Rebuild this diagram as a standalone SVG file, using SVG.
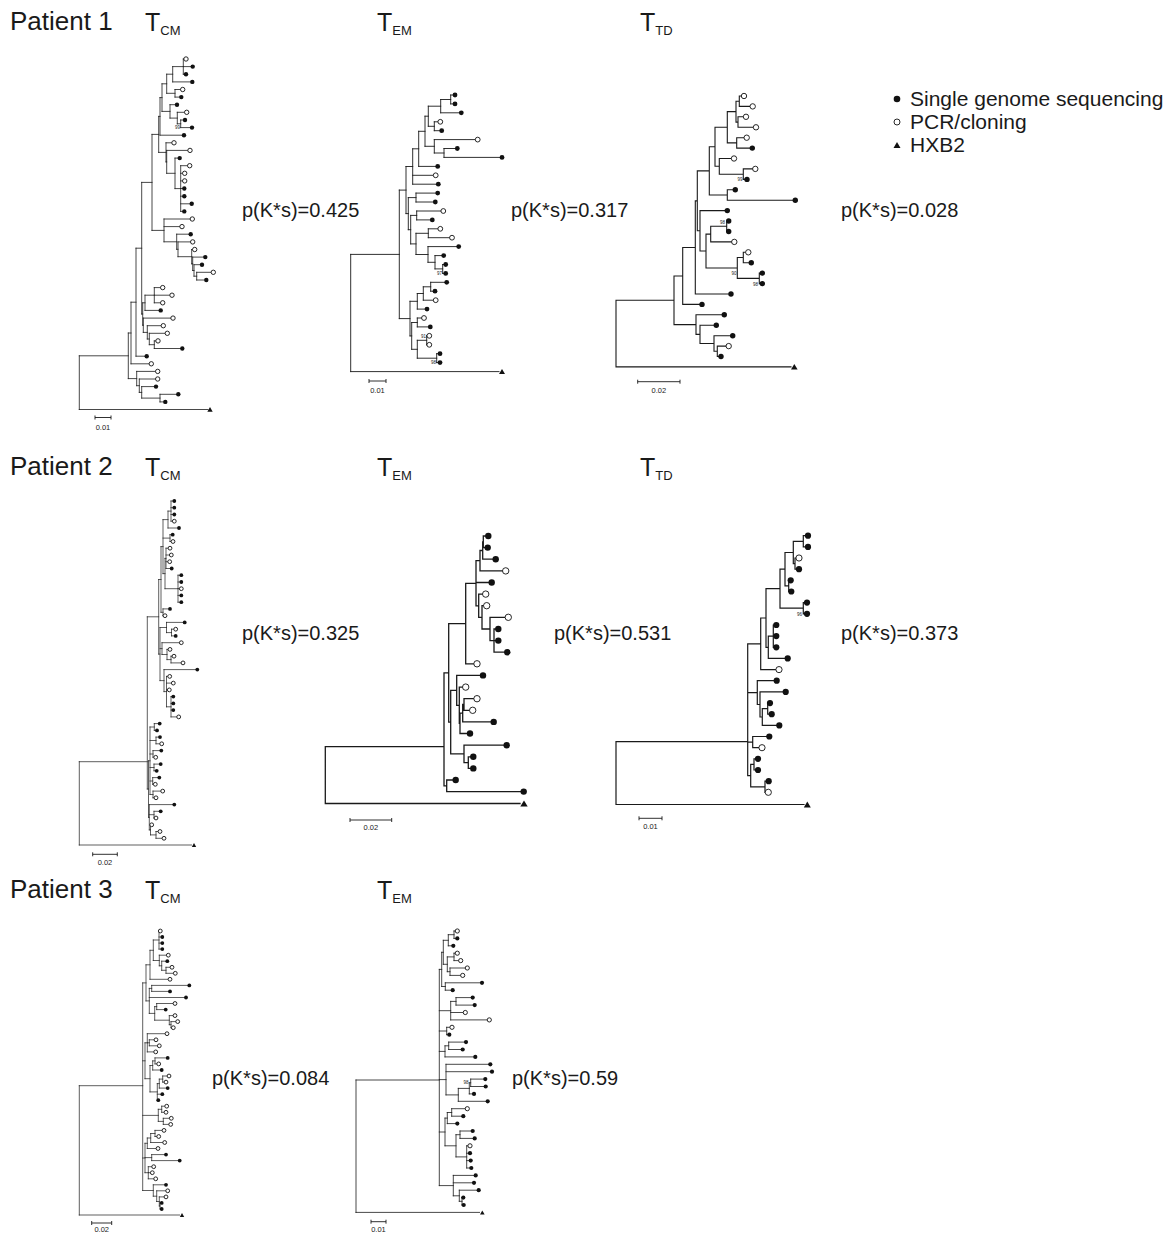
<svg xmlns="http://www.w3.org/2000/svg" width="1171" height="1234" viewBox="0 0 1171 1234">
<style>
text{font-family:"Liberation Sans",Arial,sans-serif;fill:#1a1a1a}
.pt{font-size:26px}
.tt{font-size:25px}
.sub{font-size:13px}
.pv{font-size:20px}
.lg{font-size:21px}
.sc{font-size:7.5px;text-anchor:middle}
.bs{font-size:4.5px;text-anchor:end}
.br{fill:none;stroke:#1a1a1a;stroke-linecap:square}
.f{fill:#111}
.o{fill:#fff;stroke:#111;stroke-width:0.9}
.hx{fill:#111}
.bar{fill:none;stroke:#1a1a1a;stroke-width:0.9}
</style>
<rect width="1171" height="1234" fill="#fff"/>

<g id="labels">
<text class="pt" x="10" y="30">Patient 1</text>
<text class="pt" x="10" y="475">Patient 2</text>
<text class="pt" x="10" y="898">Patient 3</text>
<text class="tt" x="145" y="31">T<tspan class="sub" dy="4">CM</tspan></text>
<text class="tt" x="377" y="31">T<tspan class="sub" dy="4">EM</tspan></text>
<text class="tt" x="640" y="31">T<tspan class="sub" dy="4">TD</tspan></text>
<text class="tt" x="145" y="476">T<tspan class="sub" dy="4">CM</tspan></text>
<text class="tt" x="377" y="476">T<tspan class="sub" dy="4">EM</tspan></text>
<text class="tt" x="640" y="476">T<tspan class="sub" dy="4">TD</tspan></text>
<text class="tt" x="145" y="899">T<tspan class="sub" dy="4">CM</tspan></text>
<text class="tt" x="377" y="899">T<tspan class="sub" dy="4">EM</tspan></text>
<text class="pv" x="242" y="217">p(K*s)=0.425</text>
<text class="pv" x="511" y="217">p(K*s)=0.317</text>
<text class="pv" x="841" y="217">p(K*s)=0.028</text>
<text class="pv" x="242" y="640">p(K*s)=0.325</text>
<text class="pv" x="554" y="640">p(K*s)=0.531</text>
<text class="pv" x="841" y="640">p(K*s)=0.373</text>
<text class="pv" x="212" y="1085">p(K*s)=0.084</text>
<text class="pv" x="512" y="1085">p(K*s)=0.59</text>
</g>

<g id="legend">
<circle class="f" cx="897" cy="99" r="3.3"/>
<circle class="o" cx="897" cy="122" r="3"/>
<polygon class="hx" points="893.5,148 897,142 900.5,148"/>
<text class="lg" x="910" y="106">Single genome sequencing</text>
<text class="lg" x="910" y="129">PCR/cloning</text>
<text class="lg" x="910" y="152">HXB2</text>
</g>

<g id="scalebars">
<path class="bar" d="M95 417.5H111M95 415.5V419.5M111 415.5V419.5"/>
<text class="sc" x="103" y="430">0.01</text>
<path class="bar" d="M369 381H386M369 379V383M386 379V383"/>
<text class="sc" x="377.5" y="393">0.01</text>
<path class="bar" d="M637.7 381.7H680M637.7 379.7V383.7M680 379.7V383.7"/>
<text class="sc" x="658.8" y="393">0.02</text>
<path class="bar" d="M92.7 854.3H117.3M92.7 852.3V856.3M117.3 852.3V856.3"/>
<text class="sc" x="105" y="865">0.02</text>
<path class="bar" d="M350 820H391.7M350 818V822M391.7 818V822"/>
<text class="sc" x="370.8" y="830">0.02</text>
<path class="bar" d="M639 818.3H662M639 816.3V820.3M662 816.3V820.3"/>
<text class="sc" x="650.5" y="829">0.01</text>
<path class="bar" d="M91.7 1223H111.7M91.7 1221V1225M111.7 1221V1225"/>
<text class="sc" x="101.7" y="1232">0.02</text>
<path class="bar" d="M371 1221.7H386M371 1219.7V1223.7M386 1219.7V1223.7"/>
<text class="sc" x="378.5" y="1232">0.01</text>
</g>

<g id="tree-p1-tcm">
<path class="br" stroke-width="0.8" d="M183.3 59V74.2M183.3 59H186M183.3 66.6H192.7M183.3 74.2H186M172.7 66.6V81.9M172.7 66.6H183.3M172.7 81.9H192.3M175 89.5V97.1M175 89.5H182.7M175 97.1H181.3M166.7 74.2V93.3M166.7 74.2H172.7M166.7 93.3H175M180.7 120V127.6M180.7 120H185M180.7 127.6H192M177.3 112.3V123.8M177.3 112.3H186.7M177.3 123.8H180.7M170 104.7V118.1M170 104.7H177M170 118.1H177.3M162 83.8V111.4M162 83.8H166.7M162 111.4H170M160 97.6V135.2M160 97.6H162M160 135.2H184M180.7 165.7V211.4M180.7 165.7H189.7M180.7 173.3H184.7M180.7 180.9H184.7M180.7 188.5H184.3M180.7 196.2H184.3M180.7 203.8H191.7M180.7 211.4H184.3M175 158.1V188.6M175 158.1H179.7M175 188.6H180.7M166.7 150.4V173.3M166.7 150.4H190M166.7 173.3H175M166 142.8V161.9M166 142.8H174M166 161.9H166.7M158.7 116.4V152.4M158.7 116.4H160M158.7 152.4H166M196.7 272.3V280M196.7 272.3H213.3M196.7 280H206.3M194 264.7V276.2M194 264.7H202M194 276.2H196.7M192.7 257.1V270.5M192.7 257.1H205.3M192.7 270.5H194M191.7 249.5V263.8M191.7 249.5H194.7M191.7 263.8H192.7M178 241.9V256.7M178 241.9H192.7M178 256.7H191.7M176.7 234.2V249.3M176.7 234.2H190.7M176.7 249.3H178M164 219V241.8M164 219H192.3M164 226.6H182M164 241.8H176.7M152 134.4V230.4M152 134.4H158.7M152 230.4H164M154.3 287.6V302.8M154.3 287.6H162.7M154.3 295.2H172M154.3 302.8H162.7M145 295.2V310.4M145 295.2H154.3M145 310.4H160.7M154.3 340.9V348.5M154.3 340.9H158M154.3 348.5H182.3M149.3 333.3V344.7M149.3 333.3H167.3M149.3 344.7H154.3M147.3 325.7V339M147.3 325.7H163.3M147.3 339H149.3M143.3 318.1V332.4M143.3 318.1H173M143.3 332.4H147.3M142.7 302.8V325.2M142.7 302.8H145M142.7 325.2H143.3M141.7 182.4V314M141.7 182.4H152M141.7 314H142.7M136 248.2V356.2M136 248.2H141.7M136 356.2H146.7M131 302.2V363.8M131 302.2H136M131 363.8H151.3M160 394.3V401.9M160 394.3H178.3M160 401.9H165.3M141.7 386.6V398.1M141.7 386.6H156M141.7 398.1H160M139.3 379V392.4M139.3 379H157.7M139.3 392.4H141.7M136.7 371.4V385.7M136.7 371.4H157.7M136.7 385.7H139.3M128.3 333V378.6M128.3 333H131M128.3 378.6H136.7M79.3 355.8V409.5M79.3 355.8H128.3M79.3 409.5H208"/>
<circle class="o" cx="186" cy="59" r="2.2"/><circle class="f" cx="192.7" cy="66.6" r="2.2"/><circle class="f" cx="186" cy="74.2" r="2.2"/><circle class="f" cx="192.3" cy="81.9" r="2.2"/><circle class="o" cx="182.7" cy="89.5" r="2.2"/><circle class="f" cx="181.3" cy="97.1" r="2.2"/><circle class="f" cx="177" cy="104.7" r="2.2"/><circle class="o" cx="186.7" cy="112.3" r="2.2"/><circle class="f" cx="185" cy="120" r="2.2"/><circle class="f" cx="192" cy="127.6" r="2.2"/><circle class="f" cx="184" cy="135.2" r="2.2"/><circle class="o" cx="174" cy="142.8" r="2.2"/><circle class="o" cx="190" cy="150.4" r="2.2"/><circle class="f" cx="179.7" cy="158.1" r="2.2"/><circle class="o" cx="189.7" cy="165.7" r="2.2"/><circle class="o" cx="184.7" cy="173.3" r="2.2"/><circle class="o" cx="184.7" cy="180.9" r="2.2"/><circle class="f" cx="184.3" cy="188.5" r="2.2"/><circle class="f" cx="184.3" cy="196.2" r="2.2"/><circle class="f" cx="191.7" cy="203.8" r="2.2"/><circle class="f" cx="184.3" cy="211.4" r="2.2"/><circle class="o" cx="192.3" cy="219" r="2.2"/><circle class="o" cx="182" cy="226.6" r="2.2"/><circle class="f" cx="190.7" cy="234.2" r="2.2"/><circle class="o" cx="192.7" cy="241.9" r="2.2"/><circle class="o" cx="194.7" cy="249.5" r="2.2"/><circle class="f" cx="205.3" cy="257.1" r="2.2"/><circle class="f" cx="202" cy="264.7" r="2.2"/><circle class="o" cx="213.3" cy="272.3" r="2.2"/><circle class="f" cx="206.3" cy="280" r="2.2"/><circle class="o" cx="162.7" cy="287.6" r="2.2"/><circle class="o" cx="172" cy="295.2" r="2.2"/><circle class="o" cx="162.7" cy="302.8" r="2.2"/><circle class="f" cx="160.7" cy="310.4" r="2.2"/><circle class="o" cx="173" cy="318.1" r="2.2"/><circle class="o" cx="163.3" cy="325.7" r="2.2"/><circle class="o" cx="167.3" cy="333.3" r="2.2"/><circle class="o" cx="158" cy="340.9" r="2.2"/><circle class="f" cx="182.3" cy="348.5" r="2.2"/><circle class="f" cx="146.7" cy="356.2" r="2.2"/><circle class="o" cx="151.3" cy="363.8" r="2.2"/><circle class="o" cx="157.7" cy="371.4" r="2.2"/><circle class="o" cx="157.7" cy="379" r="2.2"/><circle class="f" cx="156" cy="386.6" r="2.2"/><circle class="f" cx="178.3" cy="394.3" r="2.2"/><circle class="f" cx="165.3" cy="401.9" r="2.2"/>
<polygon class="hx" points="207.3,411.8 210,407 212.7,411.8"/>
<text class="bs" x="180" y="128.5">99</text>
</g>

<g id="tree-p1-tem">
<path class="br" stroke-width="0.9" d="M450.7 95V103.9M450.7 95H455M450.7 103.9H455M440.7 99.5V112.8M440.7 99.5H450.7M440.7 112.8H461.3M434.3 121.8V130.7M434.3 121.8H440.3M434.3 130.7H441.7M428.3 106.2V126.3M428.3 106.2H440.7M428.3 126.3H434.3M444 148.5V157.4M444 148.5H457.3M444 157.4H502M434.3 139.6V153M434.3 139.6H477.7M434.3 153H444M425 116.2V146.3M425 116.2H428.3M425 146.3H434.3M418.7 131.3V166.4M418.7 131.3H425M418.7 166.4H437.7M412.7 148.8V184.2M412.7 148.8H418.7M412.7 175.3H435.7M412.7 184.2H438.3M416 193.1V202M416 193.1H437.7M416 202H435.3M416.7 211V219.9M416.7 211H443.3M416.7 219.9H432.3M428.3 228.8V237.7M428.3 228.8H440.3M428.3 237.7H452M442.7 264.5V273.4M442.7 264.5H445.7M442.7 273.4H445.7M435 255.6V268.9M435 255.6H443.7M435 268.9H442.7M428 246.6V262.3M428 246.6H458.7M428 262.3H435M416 233.3V254.5M416 233.3H428.3M416 254.5H428M410.7 215.4V243.9M410.7 215.4H416.7M410.7 243.9H416M408.3 197.6V229.7M408.3 197.6H416M408.3 229.7H410.7M406 166.5V213.6M406 166.5H412.7M406 213.6H408.3M430.7 282.3V291.2M430.7 282.3H446.7M430.7 291.2H435M423.3 286.8V300.2M423.3 286.8H430.7M423.3 300.2H435.7M417.3 293.5V309.1M417.3 293.5H423.3M417.3 309.1H427M417.3 318V326.9M417.3 318H424M417.3 326.9H430.3M426.7 335.8V344.8M426.7 335.8H429.3M426.7 344.8H429.3M436.7 353.7V362.6M436.7 353.7H440M436.7 362.6H440M417.3 340.3V358.2M417.3 340.3H426.7M417.3 358.2H436.7M411.7 322.5V349.3M411.7 322.5H417.3M411.7 349.3H417.3M410 301.3V335.9M410 301.3H417.3M410 335.9H411.7M399.3 190.1V318.6M399.3 190.1H406M399.3 318.6H410M350.7 254.4V371.6M350.7 254.4H399.3M350.7 371.6H499"/>
<circle class="f" cx="455" cy="95" r="2.4"/><circle class="f" cx="455" cy="103.9" r="2.4"/><circle class="f" cx="461.3" cy="112.8" r="2.4"/><circle class="o" cx="440.3" cy="121.8" r="2.4"/><circle class="f" cx="441.7" cy="130.7" r="2.4"/><circle class="o" cx="477.7" cy="139.6" r="2.4"/><circle class="f" cx="457.3" cy="148.5" r="2.4"/><circle class="f" cx="502" cy="157.4" r="2.4"/><circle class="f" cx="437.7" cy="166.4" r="2.4"/><circle class="o" cx="435.7" cy="175.3" r="2.4"/><circle class="f" cx="438.3" cy="184.2" r="2.4"/><circle class="f" cx="437.7" cy="193.1" r="2.4"/><circle class="f" cx="435.3" cy="202" r="2.4"/><circle class="o" cx="443.3" cy="211" r="2.4"/><circle class="f" cx="432.3" cy="219.9" r="2.4"/><circle class="o" cx="440.3" cy="228.8" r="2.4"/><circle class="o" cx="452" cy="237.7" r="2.4"/><circle class="f" cx="458.7" cy="246.6" r="2.4"/><circle class="f" cx="443.7" cy="255.6" r="2.4"/><circle class="f" cx="445.7" cy="264.5" r="2.4"/><circle class="f" cx="445.7" cy="273.4" r="2.4"/><circle class="f" cx="446.7" cy="282.3" r="2.4"/><circle class="f" cx="435" cy="291.2" r="2.4"/><circle class="o" cx="435.7" cy="300.2" r="2.4"/><circle class="f" cx="427" cy="309.1" r="2.4"/><circle class="o" cx="424" cy="318" r="2.4"/><circle class="f" cx="430.3" cy="326.9" r="2.4"/><circle class="o" cx="429.3" cy="335.8" r="2.4"/><circle class="o" cx="429.3" cy="344.8" r="2.4"/><circle class="f" cx="440" cy="353.7" r="2.4"/><circle class="f" cx="440" cy="362.6" r="2.4"/>
<polygon class="hx" points="499,373.9 502,368.9 505,373.9"/>
<text class="bs" x="442" y="274.5">97</text>
<text class="bs" x="426" y="337.5">91</text>
<text class="bs" x="436" y="363.5">98</text>
</g>

<g id="tree-p1-ttd">
<path class="br" stroke-width="1.1" d="M739.3 96V106.4M739.3 96H744M739.3 106.4H752.7M738 116.8V127.3M738 116.8H746M738 127.3H756M736 101.2V122.1M736 101.2H739.3M736 122.1H738M736.7 137.7V148.1M736.7 137.7H746.7M736.7 148.1H752.3M727.3 111.6V142.9M727.3 111.6H736M727.3 142.9H736.7M743.3 168.9V179.4M743.3 168.9H755.3M743.3 179.4H747M719.3 158.5V174.2M719.3 158.5H734M719.3 174.2H743.3M715 127.3V166.3M715 127.3H727.3M715 166.3H719.3M727.3 189.8V200.2M727.3 189.8H735.3M727.3 200.2H795.3M709.3 146.8V195M709.3 146.8H715M709.3 195H727.3M726.7 221V231.5M726.7 221H728.7M726.7 231.5H728.7M710.7 226.3V241.9M710.7 226.3H726.7M710.7 241.9H734.3M743.3 252.3V262.7M743.3 252.3H748.3M743.3 262.7H751.3M759.3 273.1V283.6M759.3 273.1H762.3M759.3 283.6H762.3M737.3 257.5V278.4M737.3 257.5H743.3M737.3 278.4H759.3M706 234.1V268M706 234.1H710.7M706 268H737.3M700 210.6V251M700 210.6H727.3M700 251H706M697.3 170.9V230.8M697.3 170.9H709.3M697.3 230.8H700M695.3 200.9V294M695.3 200.9H697.3M695.3 294H731M682.7 247.5V304.4M682.7 247.5H695.3M682.7 304.4H702M717.3 346.1V356.5M717.3 346.1H728.7M717.3 356.5H721M714 335.7V351.3M714 335.7H732.7M714 351.3H717.3M700 325.2V343.5M700 325.2H716.3M700 343.5H714M696 314.8V334.4M696 314.8H724.3M696 334.4H700M674 276V324.6M674 276H682.7M674 324.6H696M616 300.3V366.9M616 300.3H674M616 366.9H791"/>
<circle class="o" cx="744" cy="96" r="2.7"/><circle class="o" cx="752.7" cy="106.4" r="2.7"/><circle class="o" cx="746" cy="116.8" r="2.7"/><circle class="o" cx="756" cy="127.3" r="2.7"/><circle class="o" cx="746.7" cy="137.7" r="2.7"/><circle class="f" cx="752.3" cy="148.1" r="2.7"/><circle class="o" cx="734" cy="158.5" r="2.7"/><circle class="o" cx="755.3" cy="168.9" r="2.7"/><circle class="f" cx="747" cy="179.4" r="2.7"/><circle class="f" cx="735.3" cy="189.8" r="2.7"/><circle class="f" cx="795.3" cy="200.2" r="2.7"/><circle class="f" cx="727.3" cy="210.6" r="2.7"/><circle class="f" cx="728.7" cy="221" r="2.7"/><circle class="f" cx="728.7" cy="231.5" r="2.7"/><circle class="o" cx="734.3" cy="241.9" r="2.7"/><circle class="o" cx="748.3" cy="252.3" r="2.7"/><circle class="f" cx="751.3" cy="262.7" r="2.7"/><circle class="f" cx="762.3" cy="273.1" r="2.7"/><circle class="f" cx="762.3" cy="283.6" r="2.7"/><circle class="f" cx="731" cy="294" r="2.7"/><circle class="f" cx="702" cy="304.4" r="2.7"/><circle class="f" cx="724.3" cy="314.8" r="2.7"/><circle class="f" cx="716.3" cy="325.2" r="2.7"/><circle class="f" cx="732.7" cy="335.7" r="2.7"/><circle class="o" cx="728.7" cy="346.1" r="2.7"/><circle class="f" cx="721" cy="356.5" r="2.7"/>
<polygon class="hx" points="791,369.6 794.3,364 797.6,369.6"/>
<text class="bs" x="742.5" y="180.5">99</text>
<text class="bs" x="725" y="224">98</text>
<text class="bs" x="736.5" y="275">90</text>
<text class="bs" x="758" y="285.5">98</text>
</g>

<g id="tree-p2-tcm">
<path class="br" stroke-width="0.7" d="M171 501V521.2M171 501H174.3M171 507.7H174.3M171 514.5H174.3M171 521.2H174.3M168 511.1V528M168 511.1H171M168 528H179M170 534.7V541.5M170 534.7H172.7M170 541.5H173M166 548.2V568.5M166 548.2H170M166 555H171.3M166 561.7H169.7M166 568.5H171.7M178 575.2V602.2M178 575.2H181.3M178 582H181.3M178 588.7H181.3M178 595.4H181.3M178 602.2H181.3M165 558.4V588.7M165 558.4H166M165 588.7H178M163 519.6V573.6M163 519.6H168M163 538.1H170M163 573.6H165M163 608.9V615.7M163 608.9H170M163 615.7H165M161 546.6V612.3M161 546.6H163M161 612.3H163M171.5 629.2V635.9M171.5 629.2H175.7M171.5 635.9H175.7M166.5 622.4V632.6M166.5 622.4H184.7M166.5 632.6H171.5M171 656.2V662.9M171 656.2H174M171 662.9H183M167 649.4V659.6M167 649.4H170M167 659.6H171M162 642.7V654.5M162 642.7H181.3M162 654.5H167M171 696.6V716.9M171 696.6H173.3M171 703.4H173.3M171 710.1H173.3M171 716.9H178.7M166.5 676.4V706.8M166.5 676.4H169.7M166.5 683.1H173.3M166.5 689.9H169.3M166.5 706.8H171M164 669.6V691.6M164 669.6H197.3M164 691.6H166.5M160 627.5V680.6M160 627.5H166.5M160 648.6H162M160 680.6H164M158.7 579.5V654.1M158.7 579.5H161M158.7 654.1H160M154.3 723.6V730.4M154.3 723.6H159.7M154.3 730.4H157M156 737.1V743.8M156 737.1H160M156 743.8H161.7M153 750.6V757.3M153 750.6H161.3M153 757.3H155.7M154 764.1V770.8M154 764.1H160.7M154 770.8H156.7M152.7 777.6V784.3M152.7 777.6H159.3M152.7 784.3H155.3M153 791.1V797.8M153 791.1H162.7M153 797.8H156M150 727V794.5M150 727H154.3M150 740.5H156M150 754H153M150 767.5H154M150 781H152.7M150 794.5H153M154 811.3V818M154 811.3H160.7M154 818H156M156 831.5V838.3M156 831.5H160M156 838.3H164M150.5 824.8V834.9M150.5 824.8H151.7M150.5 834.9H156M149.3 804.6V829.9M149.3 804.6H174.3M149.3 814.7H154M149.3 829.9H150.5M148.5 760.8V817.3M148.5 760.8H150M148.5 817.3H149.3M147.3 616.8V789M147.3 616.8H158.7M147.3 789H148.5M79.3 761.7V845M79.3 761.7H147.3M79.3 845H191.5"/>
<circle class="f" cx="174.3" cy="501" r="1.9"/><circle class="f" cx="174.3" cy="507.7" r="1.9"/><circle class="f" cx="174.3" cy="514.5" r="1.9"/><circle class="o" cx="174.3" cy="521.2" r="1.9"/><circle class="f" cx="179" cy="528" r="1.9"/><circle class="f" cx="172.7" cy="534.7" r="1.9"/><circle class="o" cx="173" cy="541.5" r="1.9"/><circle class="o" cx="170" cy="548.2" r="1.9"/><circle class="o" cx="171.3" cy="555" r="1.9"/><circle class="o" cx="169.7" cy="561.7" r="1.9"/><circle class="f" cx="171.7" cy="568.5" r="1.9"/><circle class="f" cx="181.3" cy="575.2" r="1.9"/><circle class="f" cx="181.3" cy="582" r="1.9"/><circle class="o" cx="181.3" cy="588.7" r="1.9"/><circle class="f" cx="181.3" cy="595.4" r="1.9"/><circle class="f" cx="181.3" cy="602.2" r="1.9"/><circle class="f" cx="170" cy="608.9" r="1.9"/><circle class="o" cx="165" cy="615.7" r="1.9"/><circle class="f" cx="184.7" cy="622.4" r="1.9"/><circle class="o" cx="175.7" cy="629.2" r="1.9"/><circle class="f" cx="175.7" cy="635.9" r="1.9"/><circle class="o" cx="181.3" cy="642.7" r="1.9"/><circle class="o" cx="170" cy="649.4" r="1.9"/><circle class="o" cx="174" cy="656.2" r="1.9"/><circle class="o" cx="183" cy="662.9" r="1.9"/><circle class="f" cx="197.3" cy="669.6" r="1.9"/><circle class="o" cx="169.7" cy="676.4" r="1.9"/><circle class="o" cx="173.3" cy="683.1" r="1.9"/><circle class="o" cx="169.3" cy="689.9" r="1.9"/><circle class="f" cx="173.3" cy="696.6" r="1.9"/><circle class="f" cx="173.3" cy="703.4" r="1.9"/><circle class="f" cx="173.3" cy="710.1" r="1.9"/><circle class="o" cx="178.7" cy="716.9" r="1.9"/><circle class="f" cx="159.7" cy="723.6" r="1.9"/><circle class="f" cx="157" cy="730.4" r="1.9"/><circle class="f" cx="160" cy="737.1" r="1.9"/><circle class="o" cx="161.7" cy="743.8" r="1.9"/><circle class="f" cx="161.3" cy="750.6" r="1.9"/><circle class="o" cx="155.7" cy="757.3" r="1.9"/><circle class="f" cx="160.7" cy="764.1" r="1.9"/><circle class="f" cx="156.7" cy="770.8" r="1.9"/><circle class="f" cx="159.3" cy="777.6" r="1.9"/><circle class="o" cx="155.3" cy="784.3" r="1.9"/><circle class="o" cx="162.7" cy="791.1" r="1.9"/><circle class="o" cx="156" cy="797.8" r="1.9"/><circle class="f" cx="174.3" cy="804.6" r="1.9"/><circle class="f" cx="160.7" cy="811.3" r="1.9"/><circle class="o" cx="156" cy="818" r="1.9"/><circle class="o" cx="151.7" cy="824.8" r="1.9"/><circle class="o" cx="160" cy="831.5" r="1.9"/><circle class="o" cx="164" cy="838.3" r="1.9"/>
<polygon class="hx" points="191.8,847 194,843 196.2,847"/>
</g>

<g id="tree-p2-tem">
<path class="br" stroke-width="1.3" d="M483.3 536V547.6M483.3 536H488.3M483.3 547.6H487.7M482.7 541.8V559.2M482.7 541.8H483.3M482.7 559.2H495.7M480 550.5V570.9M480 550.5H482.7M480 570.9H505.7M494 629V652.2M494 629H498.3M494 640.6H498.3M494 652.2H507.3M490 617.3V640.6M490 617.3H508.3M490 640.6H494M482 605.7V629M482 605.7H486.7M482 629H490M478.7 594.1V617.4M478.7 594.1H485.7M478.7 617.4H482M476 560.7V605.8M476 560.7H480M476 582.5H491.7M476 605.8H478.7M465.7 583.3V663.8M465.7 583.3H476M465.7 663.8H477M464 698.7V710.3M464 698.7H477M464 710.3H472.7M462.7 704.5V721.9M462.7 704.5H464M462.7 721.9H493.7M460 713.2V733.5M460 713.2H462.7M460 733.5H470M459.3 687.1V723.4M459.3 687.1H465.7M459.3 723.4H460M456.7 675.4V705.3M456.7 675.4H483M456.7 705.3H459.3M468.3 756.8V768.4M468.3 756.8H473.3M468.3 768.4H473.3M464 745.2V762.6M464 745.2H506.7M464 762.6H468.3M450.7 690.4V753.9M450.7 690.4H456.7M450.7 753.9H464M448.7 623.6V722.2M448.7 623.6H465.7M448.7 722.2H450.7M446.7 780V791.6M446.7 780H455.7M446.7 791.6H523.7M444 672.9V785.8M444 672.9H448.7M444 785.8H446.7M325.3 746.7V803.5M325.3 746.7H444M325.3 803.5H520"/>
<circle class="f" cx="488.3" cy="536" r="3.2"/><circle class="f" cx="487.7" cy="547.6" r="3.2"/><circle class="f" cx="495.7" cy="559.2" r="3.2"/><circle class="o" cx="505.7" cy="570.9" r="3.2"/><circle class="f" cx="491.7" cy="582.5" r="3.2"/><circle class="o" cx="485.7" cy="594.1" r="3.2"/><circle class="o" cx="486.7" cy="605.7" r="3.2"/><circle class="o" cx="508.3" cy="617.3" r="3.2"/><circle class="f" cx="498.3" cy="629" r="3.2"/><circle class="f" cx="498.3" cy="640.6" r="3.2"/><circle class="f" cx="507.3" cy="652.2" r="3.2"/><circle class="o" cx="477" cy="663.8" r="3.2"/><circle class="f" cx="483" cy="675.4" r="3.2"/><circle class="o" cx="465.7" cy="687.1" r="3.2"/><circle class="o" cx="477" cy="698.7" r="3.2"/><circle class="o" cx="472.7" cy="710.3" r="3.2"/><circle class="f" cx="493.7" cy="721.9" r="3.2"/><circle class="f" cx="470" cy="733.5" r="3.2"/><circle class="f" cx="506.7" cy="745.2" r="3.2"/><circle class="f" cx="473.3" cy="756.8" r="3.2"/><circle class="f" cx="473.3" cy="768.4" r="3.2"/><circle class="f" cx="455.7" cy="780" r="3.2"/><circle class="f" cx="523.7" cy="791.6" r="3.2"/>
<polygon class="hx" points="520.3,806.6 524,800.4 527.7,806.6"/>
</g>

<g id="tree-p2-ttd">
<path class="br" stroke-width="1.2" d="M803.3 535.7V546.9M803.3 535.7H808M803.3 546.9H808M795 558V569.2M795 558H799M795 569.2H799M793.3 541.3V563.6M793.3 541.3H803.3M793.3 563.6H795M788.7 580.3V591.5M788.7 580.3H790.7M788.7 591.5H791.3M785 552.5V585.9M785 552.5H793.3M785 585.9H788.7M803.3 602.6V613.8M803.3 602.6H807M803.3 613.8H807M780 569.2V608.2M780 569.2H785M780 608.2H803.3M773.3 625V647.3M773.3 625H776.3M773.3 636.1H776.3M773.3 647.3H776.3M768.3 636.1V658.4M768.3 636.1H773.3M768.3 658.4H787.7M766 588.7V647.3M766 588.7H780M766 647.3H768.3M760.7 618V669.6M760.7 618H766M760.7 669.6H779M767.7 703.1V714.2M767.7 703.1H770M767.7 714.2H771.7M762.3 708.7V725.4M762.3 708.7H767.7M762.3 725.4H779.3M760 691.9V717M760 691.9H785.7M760 717H762.3M757.3 680.7V704.5M757.3 680.7H776.7M757.3 704.5H760M752.7 736.5V747.7M752.7 736.5H769.3M752.7 747.7H762M754 758.8V770M754 758.8H758M754 770H758M765 781.2V792.3M765 781.2H768.7M765 792.3H768.3M750.7 764.4V786.8M750.7 764.4H754M750.7 786.8H765M747.7 643.8V775.6M747.7 643.8H760.7M747.7 692.6H757.3M747.7 742.1H752.7M747.7 775.6H750.7M616 741.7V804.5M616 741.7H747.7M616 804.5H804"/>
<circle class="f" cx="808" cy="535.7" r="3.1"/><circle class="f" cx="808" cy="546.9" r="3.1"/><circle class="o" cx="799" cy="558" r="3.1"/><circle class="f" cx="799" cy="569.2" r="3.1"/><circle class="f" cx="790.7" cy="580.3" r="3.1"/><circle class="f" cx="791.3" cy="591.5" r="3.1"/><circle class="f" cx="807" cy="602.6" r="3.1"/><circle class="f" cx="807" cy="613.8" r="3.1"/><circle class="f" cx="776.3" cy="625" r="3.1"/><circle class="f" cx="776.3" cy="636.1" r="3.1"/><circle class="f" cx="776.3" cy="647.3" r="3.1"/><circle class="f" cx="787.7" cy="658.4" r="3.1"/><circle class="o" cx="779" cy="669.6" r="3.1"/><circle class="f" cx="776.7" cy="680.7" r="3.1"/><circle class="f" cx="785.7" cy="691.9" r="3.1"/><circle class="f" cx="770" cy="703.1" r="3.1"/><circle class="f" cx="771.7" cy="714.2" r="3.1"/><circle class="f" cx="779.3" cy="725.4" r="3.1"/><circle class="f" cx="769.3" cy="736.5" r="3.1"/><circle class="o" cx="762" cy="747.7" r="3.1"/><circle class="f" cx="758" cy="758.8" r="3.1"/><circle class="f" cx="758" cy="770" r="3.1"/><circle class="f" cx="768.7" cy="781.2" r="3.1"/><circle class="o" cx="768.3" cy="792.3" r="3.1"/>
<polygon class="hx" points="803.8,807.4 807.3,801.4 810.8,807.4"/>
<text class="bs" x="802" y="615.5">96</text>
</g>

<g id="tree-p3-tcm">
<path class="br" stroke-width="0.7" d="M159 931V949.1M159 931H160.3M159 937H162.3M159 943.1H162.3M159 949.1H162.3M166 967.3V973.3M166 967.3H172M166 973.3H175.3M161.7 961.2V970.3M161.7 961.2H167.3M161.7 970.3H166M159.3 955.2V965.8M159.3 955.2H168.3M159.3 965.8H161.7M153.3 940V960.5M153.3 940H159M153.3 960.5H159.3M150 950.3V979.3M150 950.3H153.3M150 979.3H170M171 1021.6V1027.7M171 1021.6H177.7M171 1027.7H173.3M169.3 1015.6V1024.7M169.3 1015.6H175M169.3 1024.7H171M156.7 1003.5V1009.6M156.7 1003.5H175M156.7 1009.6H165.7M154.7 1006.6V1020.2M154.7 1006.6H156.7M154.7 1020.2H169.3M151.7 985.4V991.4M151.7 985.4H189.3M151.7 991.4H170M149.3 988.4V1013.4M149.3 988.4H151.7M149.3 997.5H186M149.3 1013.4H154.7M146 964.8V1000.9M146 964.8H150M146 1000.9H149.3M149.3 1039.8V1045.8M149.3 1039.8H156M149.3 1045.8H159.3M147.3 1033.7V1051.9M147.3 1033.7H167M147.3 1042.8H149.3M147.3 1051.9H155.7M155 1057.9V1063.9M155 1057.9H167.7M155 1063.9H158.7M152.7 1060.9V1070M152.7 1060.9H155M152.7 1070H161.7M162.7 1076V1082.1M162.7 1076H169M162.7 1082.1H166M159.3 1079.1V1088.1M159.3 1079.1H162.7M159.3 1088.1H167.7M157.3 1083.6V1100.2M157.3 1083.6H159.3M157.3 1094.2H162.3M157.3 1100.2H158.3M150 1065.5V1091.9M150 1065.5H152.7M150 1091.9H157.3M145 1042.8V1078.7M145 1042.8H147.3M145 1078.7H150M161.7 1106.2V1112.3M161.7 1106.2H166.7M161.7 1112.3H166M163.3 1118.3V1124.4M163.3 1118.3H171.3M163.3 1124.4H170.7M158.3 1109.3V1121.4M158.3 1109.3H161.7M158.3 1121.4H163.3M155 1130.4V1136.5M155 1130.4H164M155 1136.5H158.7M150.7 1133.5V1142.5M150.7 1133.5H155M150.7 1142.5H164.7M147.3 1138V1148.5M147.3 1138H150.7M147.3 1148.5H158M151.7 1154.6V1160.6M151.7 1154.6H166M151.7 1160.6H179.7M148.3 1166.7V1178.8M148.3 1166.7H153.7M148.3 1172.7H152.3M148.3 1178.8H155.7M145 1143.3V1172.7M145 1143.3H147.3M145 1157.6H151.7M145 1172.7H148.3M160 1202.9V1209M160 1202.9H161.7M160 1209H161.7M159.3 1196.9V1206M159.3 1196.9H166M159.3 1206H160M156.7 1190.8V1201.5M156.7 1190.8H167.7M156.7 1201.5H159.3M153.3 1184.8V1196.2M153.3 1184.8H166M153.3 1196.2H156.7M142.7 982.9V1190.5M142.7 982.9H146M142.7 1060.8H145M142.7 1115.4H158.3M142.7 1158H145M142.7 1190.5H153.3M79.3 1085.7V1215M79.3 1085.7H142.7M79.3 1215H179.5"/>
<circle class="o" cx="160.3" cy="931" r="1.9"/><circle class="f" cx="162.3" cy="937" r="1.9"/><circle class="f" cx="162.3" cy="943.1" r="1.9"/><circle class="f" cx="162.3" cy="949.1" r="1.9"/><circle class="o" cx="168.3" cy="955.2" r="1.9"/><circle class="f" cx="167.3" cy="961.2" r="1.9"/><circle class="o" cx="172" cy="967.3" r="1.9"/><circle class="o" cx="175.3" cy="973.3" r="1.9"/><circle class="o" cx="170" cy="979.3" r="1.9"/><circle class="f" cx="189.3" cy="985.4" r="1.9"/><circle class="f" cx="170" cy="991.4" r="1.9"/><circle class="f" cx="186" cy="997.5" r="1.9"/><circle class="o" cx="175" cy="1003.5" r="1.9"/><circle class="f" cx="165.7" cy="1009.6" r="1.9"/><circle class="o" cx="175" cy="1015.6" r="1.9"/><circle class="o" cx="177.7" cy="1021.6" r="1.9"/><circle class="o" cx="173.3" cy="1027.7" r="1.9"/><circle class="o" cx="167" cy="1033.7" r="1.9"/><circle class="o" cx="156" cy="1039.8" r="1.9"/><circle class="o" cx="159.3" cy="1045.8" r="1.9"/><circle class="o" cx="155.7" cy="1051.9" r="1.9"/><circle class="f" cx="167.7" cy="1057.9" r="1.9"/><circle class="o" cx="158.7" cy="1063.9" r="1.9"/><circle class="f" cx="161.7" cy="1070" r="1.9"/><circle class="o" cx="169" cy="1076" r="1.9"/><circle class="o" cx="166" cy="1082.1" r="1.9"/><circle class="f" cx="167.7" cy="1088.1" r="1.9"/><circle class="f" cx="162.3" cy="1094.2" r="1.9"/><circle class="f" cx="158.3" cy="1100.2" r="1.9"/><circle class="o" cx="166.7" cy="1106.2" r="1.9"/><circle class="o" cx="166" cy="1112.3" r="1.9"/><circle class="o" cx="171.3" cy="1118.3" r="1.9"/><circle class="o" cx="170.7" cy="1124.4" r="1.9"/><circle class="o" cx="164" cy="1130.4" r="1.9"/><circle class="o" cx="158.7" cy="1136.5" r="1.9"/><circle class="o" cx="164.7" cy="1142.5" r="1.9"/><circle class="o" cx="158" cy="1148.5" r="1.9"/><circle class="f" cx="166" cy="1154.6" r="1.9"/><circle class="f" cx="179.7" cy="1160.6" r="1.9"/><circle class="o" cx="153.7" cy="1166.7" r="1.9"/><circle class="o" cx="152.3" cy="1172.7" r="1.9"/><circle class="o" cx="155.7" cy="1178.8" r="1.9"/><circle class="f" cx="166" cy="1184.8" r="1.9"/><circle class="o" cx="167.7" cy="1190.8" r="1.9"/><circle class="o" cx="166" cy="1196.9" r="1.9"/><circle class="f" cx="161.7" cy="1202.9" r="1.9"/><circle class="f" cx="161.7" cy="1209" r="1.9"/>
<polygon class="hx" points="179.8,1217 182,1213 184.2,1217"/>
</g>

<g id="tree-p3-tem">
<path class="br" stroke-width="0.8" d="M454 931V938.4M454 931H457.3M454 938.4H457.3M448.3 934.7V945.8M448.3 934.7H454M448.3 945.8H453.3M454 953.2V960.6M454 953.2H457.3M454 960.6H460.7M450 968V975.4M450 968H467.3M450 975.4H462.7M447.3 956.9V971.7M447.3 956.9H454M447.3 971.7H450M443.3 940.3V964.3M443.3 940.3H448.3M443.3 964.3H447.3M445.3 982.8V990.2M445.3 982.8H482M445.3 990.2H452.7M441.7 952.3V986.5M441.7 952.3H443.3M441.7 986.5H445.3M456 997.6V1005.1M456 997.6H472.7M456 1005.1H474.7M450.7 1001.4V1019.9M450.7 1001.4H456M450.7 1012.5H465.3M450.7 1019.9H489.3M446.7 1027.3V1034.7M446.7 1027.3H452M446.7 1034.7H449.3M448.7 1042.1V1049.5M448.7 1042.1H466M448.7 1049.5H462.7M445 1045.8V1056.9M445 1045.8H448.7M445 1056.9H475.3M470.7 1079.1V1086.5M470.7 1079.1H485.3M470.7 1086.5H485.7M469.3 1082.8V1093.9M469.3 1082.8H470.7M469.3 1093.9H474M458.3 1088.4V1101.3M458.3 1088.4H469.3M458.3 1101.3H487.7M446 1064.3V1094.9M446 1064.3H490.3M446 1071.7H492M446 1094.9H458.3M451.7 1108.7V1116.2M451.7 1108.7H467.3M451.7 1116.2H463.3M447.3 1112.5V1123.6M447.3 1112.5H451.7M447.3 1123.6H457.3M460 1131V1138.4M460 1131H472.7M460 1138.4H474.7M466.7 1145.8V1168M466.7 1145.8H470M466.7 1153.2H470M466.7 1160.6H470.7M466.7 1168H471.3M456 1134.7V1156.9M456 1134.7H460M456 1156.9H466.7M445 1118.1V1145.8M445 1118.1H447.3M445 1145.8H456M462 1197.6V1205M462 1197.6H463.3M462 1205H463.7M459.3 1190.2V1201.3M459.3 1190.2H478.7M459.3 1201.3H462M453.3 1175.4V1195.8M453.3 1175.4H475.7M453.3 1182.8H474M453.3 1195.8H459.3M439.3 969.4V1185.6M439.3 969.4H441.7M439.3 1010.7H450.7M439.3 1031H446.7M439.3 1051.4H445M439.3 1079.6H446M439.3 1132H445M439.3 1185.6H453.3M356 1080V1212.4M356 1080H439.3M356 1212.4H479.5"/>
<circle class="o" cx="457.3" cy="931" r="2.1"/><circle class="f" cx="457.3" cy="938.4" r="2.1"/><circle class="f" cx="453.3" cy="945.8" r="2.1"/><circle class="o" cx="457.3" cy="953.2" r="2.1"/><circle class="o" cx="460.7" cy="960.6" r="2.1"/><circle class="o" cx="467.3" cy="968" r="2.1"/><circle class="o" cx="462.7" cy="975.4" r="2.1"/><circle class="f" cx="482" cy="982.8" r="2.1"/><circle class="f" cx="452.7" cy="990.2" r="2.1"/><circle class="f" cx="472.7" cy="997.6" r="2.1"/><circle class="f" cx="474.7" cy="1005.1" r="2.1"/><circle class="o" cx="465.3" cy="1012.5" r="2.1"/><circle class="o" cx="489.3" cy="1019.9" r="2.1"/><circle class="o" cx="452" cy="1027.3" r="2.1"/><circle class="f" cx="449.3" cy="1034.7" r="2.1"/><circle class="f" cx="466" cy="1042.1" r="2.1"/><circle class="f" cx="462.7" cy="1049.5" r="2.1"/><circle class="f" cx="475.3" cy="1056.9" r="2.1"/><circle class="f" cx="490.3" cy="1064.3" r="2.1"/><circle class="f" cx="492" cy="1071.7" r="2.1"/><circle class="f" cx="485.3" cy="1079.1" r="2.1"/><circle class="f" cx="485.7" cy="1086.5" r="2.1"/><circle class="f" cx="474" cy="1093.9" r="2.1"/><circle class="f" cx="487.7" cy="1101.3" r="2.1"/><circle class="o" cx="467.3" cy="1108.7" r="2.1"/><circle class="f" cx="463.3" cy="1116.2" r="2.1"/><circle class="f" cx="457.3" cy="1123.6" r="2.1"/><circle class="f" cx="472.7" cy="1131" r="2.1"/><circle class="f" cx="474.7" cy="1138.4" r="2.1"/><circle class="o" cx="470" cy="1145.8" r="2.1"/><circle class="f" cx="470" cy="1153.2" r="2.1"/><circle class="f" cx="470.7" cy="1160.6" r="2.1"/><circle class="f" cx="471.3" cy="1168" r="2.1"/><circle class="f" cx="475.7" cy="1175.4" r="2.1"/><circle class="f" cx="474" cy="1182.8" r="2.1"/><circle class="f" cx="478.7" cy="1190.2" r="2.1"/><circle class="f" cx="463.3" cy="1197.6" r="2.1"/><circle class="f" cx="463.7" cy="1205" r="2.1"/>
<polygon class="hx" points="480,1214.6 482.3,1210.4 484.6,1214.6"/>
<text class="bs" x="468.5" y="1084">98</text>
</g>
</svg>
